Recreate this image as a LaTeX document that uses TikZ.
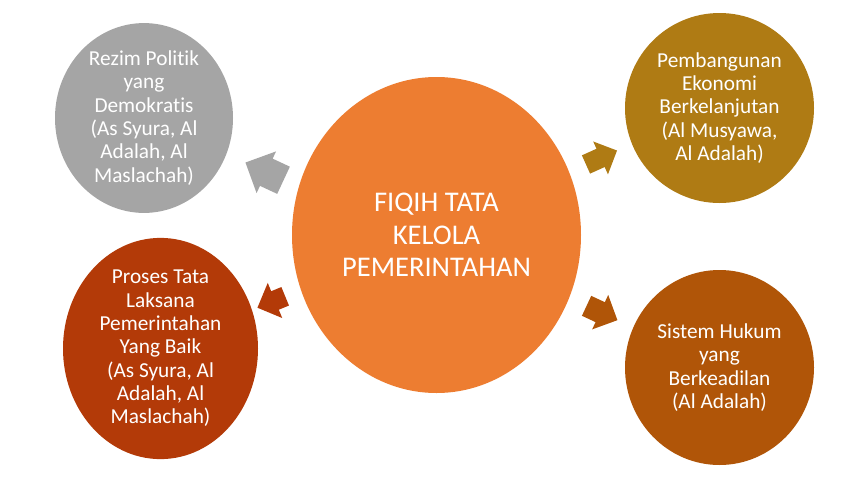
\documentclass[tikz,border=0pt]{standalone}
\usepackage{fontspec}
\setmainfont{Carlito}[Ligatures=NoCommon]
\usetikzlibrary{shapes.geometric}
\definecolor{corange}{HTML}{ED7D31}
\definecolor{cgray}{HTML}{A5A5A5}
\definecolor{cred}{RGB}{179,58,8}
\definecolor{cgold}{RGB}{175,123,20}
\definecolor{cbrown}{RGB}{176,85,8}
\tikzset{
  bubble/.style={ellipse, inner sep=0pt, text=white, align=center,
    font=\fontsize{21.3}{23.3}\selectfont},
  hub/.style={ellipse, inner sep=0pt, text=white, align=center,
    font=\fontsize{28.5}{32.5}\selectfont},
}
\newcommand{\blockarrow}[7]{%
  \fill[#7, shift={(#1,#2)}, rotate=#3]
    ({-#4/2},{#6/2}) -- ({#4/2-#5/2},{#6/2}) -- ({#4/2-#5/2},{#5/2}) --
    ({#4/2},0) -- ({#4/2-#5/2},{-#5/2}) -- ({#4/2-#5/2},{-#6/2}) --
    ({-#4/2},{-#6/2}) -- cycle;}
\begin{document}
\begin{tikzpicture}[x=1pt,y=-1pt]
\fill[white] (0,0) rectangle (863,477);
\useasboundingbox (0,0) rectangle (863,477);

\node[hub, fill=corange, minimum width=289pt, minimum height=316pt] (hub) at (436.5,235)
  {FIQIH TATA\\KELOLA\\PEMERINTAHAN};

\node[bubble, fill=cgray, minimum width=178pt, minimum height=182pt] (rezim) at (144,118)
  {Rezim Politik\\yang\\Demokratis\\(As Syura, Al\\Adalah, Al\\Maslachah)};

\node[bubble, fill=cred, minimum width=195pt, minimum height=203pt] (proses) at (160.5,348.5)
  {Proses Tata\\Laksana\\Pemerintahan\\Yang Baik\\(As Syura, Al\\Adalah, Al\\Maslachah)};

\node[bubble, fill=cgold, minimum width=189pt, minimum height=190pt] (ekonomi) at (719.5,108)
  {Pembangunan\\Ekonomi\\Berkelanjutan\\(Al Musyawa,\\Al Adalah)};

\node[bubble, fill=cbrown, minimum width=189pt, minimum height=195pt] (hukum) at (719.5,367.5)
  {Sistem Hukum\\yang\\Berkeadilan\\(Al Adalah)};

\blockarrow{264.5}{171.4}{155}{42}{46}{30}{cgray}
\blockarrow{271.3}{302}{202.4}{30}{38}{20}{cred}
\blockarrow{601.5}{157.5}{24.2}{34}{36}{20}{cgold}
\blockarrow{602}{313}{335}{34}{38}{22}{cbrown}
\end{tikzpicture}
\end{document}
